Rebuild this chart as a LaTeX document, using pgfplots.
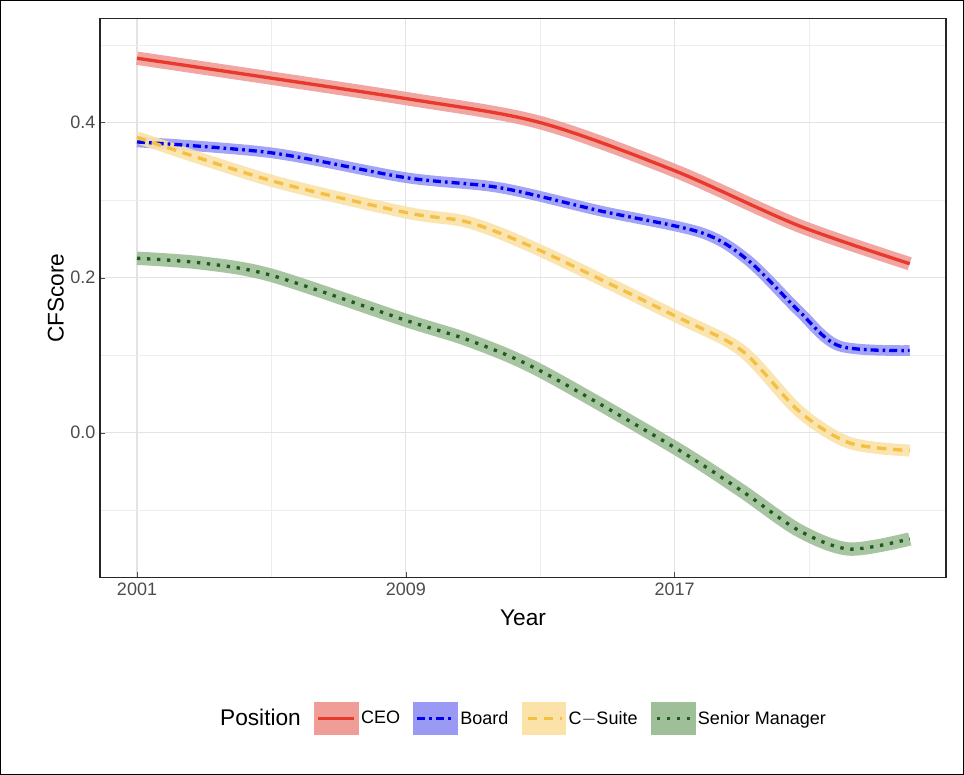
\documentclass[border=0pt]{standalone}
\usepackage{pgfplots}
\pgfplotsset{compat=1.18}
\usepackage{fontspec}
\setmainfont{Liberation Sans}
\definecolor{ceo}{HTML}{E8392B}\definecolor{ceob}{HTML}{F09C97}
\definecolor{brd}{HTML}{0000F0}\definecolor{brdb}{HTML}{9A9AF5}
\definecolor{cs}{HTML}{F5BE45}\definecolor{csb}{HTML}{FAE2A8}
\definecolor{sm}{HTML}{1F5A1F}\definecolor{smb}{HTML}{9EBF98}
\begin{document}
\begin{tikzpicture}
\begin{axis}[scale only axis, width=634pt, height=419pt,
 xmin=1999.9, xmax=2025.08, ymin=-0.187, ymax=0.534,
 xtick={2001,2009,2017}, minor xtick={2005,2013,2021},
 ytick={0,0.2,0.4}, minor ytick={-0.1,0.1,0.3,0.5},
 yticklabels={0.0,0.2,0.4}, xticklabels={2001,2009,2017},
 xtick pos=bottom, ytick pos=left,
 grid=both, major grid style={gray!22,line width=1pt}, minor grid style={gray!14,line width=0.6pt},
 tick style={black!70}, major tick length=4pt, minor tick length=0pt,
 ticklabel style={font=\fontsize{13.5}{16}\selectfont, text=black!70},
 axis line style={black!85, line width=0.9pt},
 xlabel={Year}, ylabel={CFScore},
 label style={font=\fontsize{17}{20}\selectfont},
 xlabel style={yshift=-4pt}, ylabel style={yshift=-2pt},
 legend columns=5,
 legend style={at={(0.5,-0.252)}, anchor=center, draw=none, font=\fontsize{13.5}{16}\selectfont,
   /tikz/every even column/.append style={column sep=8pt}},
 legend cell align=left,
]
\addlegendimage{empty legend}\addlegendentry{\fontsize{17}{20}\selectfont Position}
\addlegendimage{legend image code/.code={\fill[ceob] (0,-12pt) rectangle (1.15cm,12pt); \draw[ceo,line width=2.5pt] (0.1cm,0)--(1.05cm,0);}}\addlegendentry{CEO}
\addlegendimage{legend image code/.code={\fill[brdb] (0,-12pt) rectangle (1.15cm,12pt); \draw[brd,line width=2.5pt,dash pattern=on 6pt off 3pt on 2pt off 3pt] (0.1cm,0)--(1.05cm,0);}}\addlegendentry{Board}
\addlegendimage{legend image code/.code={\fill[csb] (0,-12pt) rectangle (1.15cm,12pt); \draw[cs,line width=2.5pt,dash pattern=on 7pt off 5pt] (0.15cm,0)--(1.05cm,0);}}\addlegendentry{C$-$Suite}
\addlegendimage{legend image code/.code={\fill[smb] (0,-12pt) rectangle (1.15cm,12pt); \draw[sm,line width=2.5pt,dash pattern=on 2.5pt off 5pt] (0.15cm,0)--(1.05cm,0);}}\addlegendentry{Senior Manager}
% bands
\addplot[forget plot, smooth, ceob, line width=10pt, opacity=0.9] coordinates {(2001,0.483)(2009,0.431)(2013,0.40)(2017,0.338)(2020.7,0.267)(2024,0.218)};
\addplot[forget plot, smooth, brdb, line width=8pt, opacity=0.9] coordinates {(2001,0.375)(2005,0.361)(2009,0.329)(2011.8,0.316)(2014.8,0.286)(2017.8,0.258)(2019.2,0.222)(2020.7,0.157)(2021.9,0.112)(2024,0.106)};
\addplot[forget plot, smooth, csb, line width=9pt, opacity=0.9] coordinates {(2001,0.381)(2005,0.325)(2009,0.284)(2010.9,0.271)(2013,0.235)(2017,0.151)(2019,0.106)(2020.7,0.028)(2022.2,-0.013)(2024,-0.023)};
\addplot[forget plot, smooth, smb, line width=10pt, opacity=0.9] coordinates {(2001,0.225)(2002.9,0.219)(2005,0.203)(2009,0.145)(2010.9,0.119)(2013,0.080)(2017,-0.019)(2019,-0.075)(2020.7,-0.126)(2022.2,-0.150)(2024,-0.137)};
% lines
\addplot[forget plot, smooth, ceo, line width=2.5pt] coordinates {(2001,0.483)(2009,0.431)(2013,0.40)(2017,0.338)(2020.7,0.267)(2024,0.218)};
\addplot[forget plot, smooth, brd, line width=2.5pt, dash pattern=on 6pt off 3pt on 2pt off 3pt] coordinates {(2001,0.375)(2005,0.361)(2009,0.329)(2011.8,0.316)(2014.8,0.286)(2017.8,0.258)(2019.2,0.222)(2020.7,0.157)(2021.9,0.112)(2024,0.106)};
\addplot[forget plot, smooth, cs, line width=2.5pt, dash pattern=on 7pt off 5pt] coordinates {(2001,0.381)(2005,0.325)(2009,0.284)(2010.9,0.271)(2013,0.235)(2017,0.151)(2019,0.106)(2020.7,0.028)(2022.2,-0.013)(2024,-0.023)};
\addplot[forget plot, smooth, sm, line width=2.5pt, dash pattern=on 2.5pt off 5pt] coordinates {(2001,0.225)(2002.9,0.219)(2005,0.203)(2009,0.145)(2010.9,0.119)(2013,0.080)(2017,-0.019)(2019,-0.075)(2020.7,-0.126)(2022.2,-0.150)(2024,-0.137)};
\end{axis}
\draw[line width=1pt] (-74.5pt,-147.25pt) rectangle (647pt,432.5pt);
\path[use as bounding box] (-75pt,-147.75pt) rectangle (647.5pt,433pt);
\end{tikzpicture}
\end{document}
